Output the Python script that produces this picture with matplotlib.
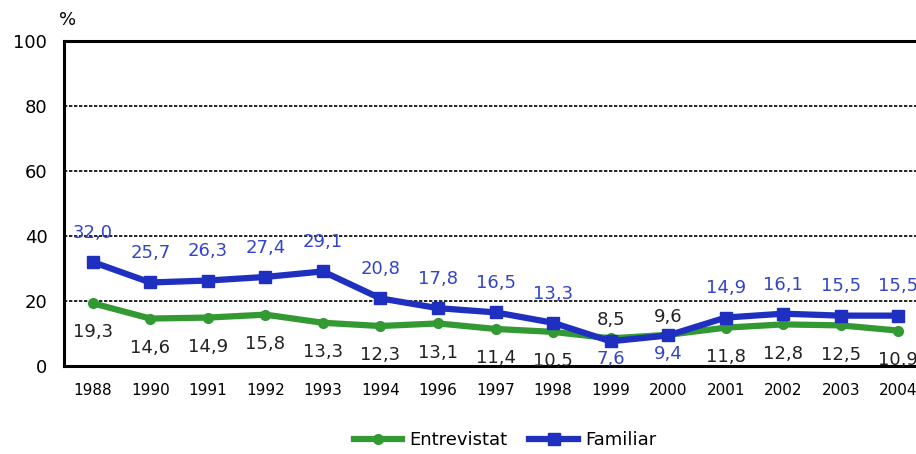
import numpy as np
import matplotlib.pyplot as plt

years = ["1988", "1990", "1991", "1992", "1993", "1994", "1996", "1997",
         "1998", "1999", "2000", "2001", "2002", "2003", "2004"]
entrevistat = [19.3, 14.6, 14.9, 15.8, 13.3, 12.3, 13.1, 11.4,
               10.5, 8.5, 9.6, 11.8, 12.8, 12.5, 10.9]
familiar = [32.0, 25.7, 26.3, 27.4, 29.1, 20.8, 17.8, 16.5,
            13.3, 7.6, 9.4, 14.9, 16.1, 15.5, 15.5]

green = "#339933"
blue = "#1f2fbf"
blue_txt = "#3344cc"

fig = plt.figure(figsize=(9.16, 4.54), dpi=100)
ax = fig.add_axes([64 / 916, 88 / 454, 863 / 916, 325 / 454])

x = np.arange(len(years))
ax.plot(x, entrevistat, color=green, lw=4.5, marker="o", ms=7,
        label="Entrevistat", zorder=3)
ax.plot(x, familiar, color=blue, lw=4.5, marker="s", ms=8.5,
        label="Familiar", zorder=4)

# labels: above for the higher series, below for the lower one
for i in range(len(years)):
    g, b = entrevistat[i], familiar[i]
    if b >= g:
        ob, og = 21, -21
    else:
        ob, og = -13, 13
    ax.annotate(f"{b:.1f}".replace(".", ","), (x[i], b), xytext=(0, ob),
                textcoords="offset points", ha="center", va="center",
                fontsize=13, color=blue_txt)
    ax.annotate(f"{g:.1f}".replace(".", ","), (x[i], g), xytext=(0, og),
                textcoords="offset points", ha="center", va="center",
                fontsize=13, color="#222222")

ax.set_xlim(-0.5, len(years) - 0.5)
ax.set_ylim(0, 100)
ax.set_yticks([0, 20, 40, 60, 80, 100])
ax.set_xticks(x)
ax.set_xticklabels(years, fontsize=11)
ax.tick_params(axis="y", labelsize=13, length=0, pad=12)
ax.tick_params(axis="x", length=0, pad=12)
for y in [20, 40, 60, 80]:
    ax.axhline(y, color="black", lw=1.2, ls=(0, (2, 1)), zorder=1)
for s in ["left", "bottom", "top"]:
    ax.spines[s].set_linewidth(2.2)
ax.spines["right"].set_visible(False)

fig.text(68 / 916, 1 - 20 / 454, "%", fontsize=13, ha="center", va="center")

ax.legend(loc="center", bbox_to_anchor=(505 / 916, 14 / 454),
          bbox_transform=fig.transFigure, ncol=2, frameon=False,
          fontsize=13, handlelength=2.7, handletextpad=0.4, columnspacing=1.2)

fig.savefig("out.png", dpi=100)
